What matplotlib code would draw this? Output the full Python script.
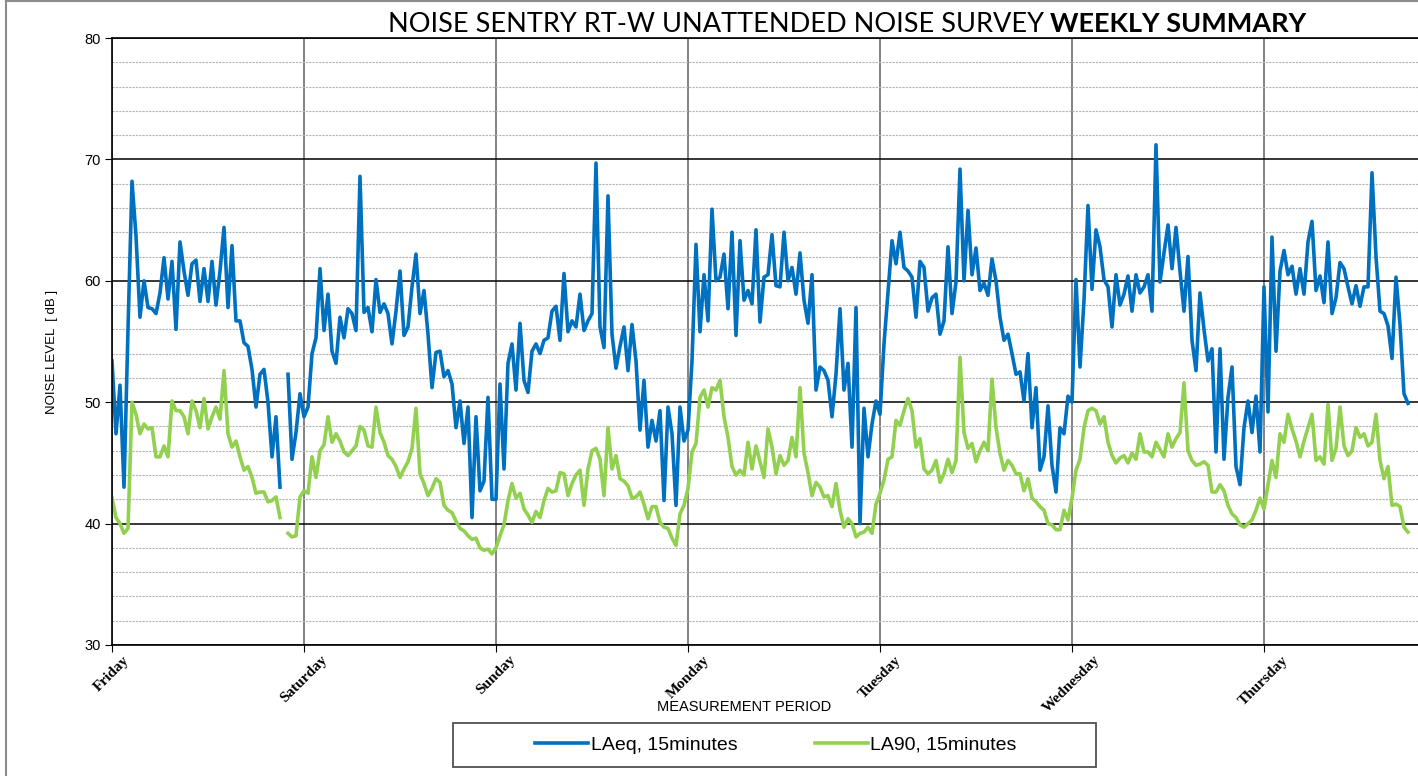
import numpy as np
import matplotlib.pyplot as plt
from matplotlib.ticker import MultipleLocator
from matplotlib.patches import Rectangle
from matplotlib.lines import Line2D

days = ["Friday", "Saturday", "Sunday", "Monday", "Tuesday", "Wednesday", "Thursday"]
nan = np.nan

# LAeq, half-hourly readings per day (dB)
laeq_fri = [53.4, 47.4, 51.4, 43.0, 56.0, 68.2, 63.7, 57.0, 60.0, 57.8, 57.7, 57.3, 59.0, 61.9, 58.5, 61.6,
            56.0, 63.2, 60.8, 58.8, 61.4, 61.7, 58.3, 61.0, 58.3, 61.6, 58.0, 60.8, 64.4, 57.8, 62.9, 56.7,
            56.7, 54.9, 54.6, 52.7, 49.6, 52.3, 52.7, 50.0, 45.5, 48.8, 43.0, nan, 52.3, 45.3, 47.5, 50.7]
laeq_sat = [48.8, 49.6, 54.0, 55.3, 61.0, 55.9, 58.9, 54.2, 53.2, 57.0, 55.3, 57.7, 57.3, 55.9, 68.6, 57.4,
            57.8, 55.8, 60.1, 57.4, 58.1, 57.3, 54.8, 57.5, 60.8, 55.5, 56.2, 59.5, 62.2, 57.3, 59.2, 55.6,
            51.2, 54.1, 54.2, 52.1, 52.6, 51.5, 47.9, 50.1, 46.6, 49.6, 40.5, 48.8, 42.7, 43.5, 50.4, 42.0]
laeq_sun = [42.0, 51.5, 44.5, 53.2, 54.8, 51.0, 56.5, 51.8, 50.8, 54.2, 54.8, 54.0, 55.1, 55.3, 57.5, 57.9,
            55.1, 60.6, 55.8, 56.7, 56.2, 58.9, 55.9, 56.7, 57.3, 69.7, 56.2, 54.5, 67.0, 55.6, 52.8, 54.6,
            56.2, 52.6, 56.4, 53.4, 47.7, 51.8, 46.3, 48.5, 46.8, 49.3, 41.9, 49.6, 47.4, 41.5, 49.6, 46.8]
laeq_mon = [47.7, 53.4, 63.0, 55.8, 60.5, 56.7, 65.9, 60.0, 60.3, 62.2, 57.7, 64.0, 55.5, 63.3, 58.4, 59.2,
            58.1, 64.2, 56.6, 60.3, 60.5, 63.8, 59.6, 59.5, 64.0, 60.0, 61.1, 58.9, 62.3, 58.4, 56.5, 60.5,
            51.0, 52.9, 52.6, 51.8, 48.8, 52.3, 57.7, 51.0, 53.2, 46.3, 57.8, 40.0, 49.5, 45.5, 48.2, 50.1]
laeq_tue = [49.0, 54.8, 59.0, 63.3, 61.4, 64.0, 61.1, 60.8, 60.3, 57.0, 61.6, 61.1, 57.5, 58.6, 58.9, 55.6,
            56.7, 62.8, 57.3, 59.9, 69.2, 60.0, 65.8, 60.5, 62.7, 59.2, 59.8, 58.8, 61.8, 60.0, 57.0, 55.1,
            55.6, 54.0, 52.3, 52.5, 50.1, 54.0, 47.9, 51.2, 44.4, 45.5, 49.7, 44.8, 42.6, 47.9, 47.4, 50.5]
laeq_wed = [50.0, 60.1, 52.9, 58.4, 66.2, 59.3, 64.2, 62.8, 60.1, 59.5, 56.2, 60.5, 58.0, 58.9, 60.4, 57.5,
            60.5, 59.0, 59.5, 60.5, 57.5, 71.2, 59.9, 62.3, 64.6, 61.0, 64.4, 60.8, 57.5, 62.0, 55.1, 52.6,
            59.0, 56.0, 53.4, 54.4, 45.9, 54.4, 45.3, 50.4, 52.9, 44.7, 43.2, 47.9, 50.1, 47.5, 50.5, 45.9]
laeq_thu = [59.5, 49.2, 63.6, 54.2, 60.8, 62.5, 60.5, 61.2, 58.9, 61.0, 58.9, 63.2, 64.9, 59.2, 60.4, 58.2,
            63.2, 57.3, 58.6, 61.5, 61.0, 59.5, 58.1, 59.6, 57.9, 59.5, 59.5, 68.9, 62.0, 57.5, 57.3, 56.3,
            53.6, 60.3, 56.4, 50.7, 49.9]

# LA90, half-hourly readings per day (dB)
la90_fri = [42.1, 40.5, 40.0, 39.2, 39.6, 50.0, 49.0, 47.4, 48.2, 47.8, 47.9, 45.5, 45.5, 46.4, 45.5, 50.1,
            49.3, 49.3, 48.8, 47.4, 50.1, 49.3, 47.9, 50.3, 47.8, 48.8, 49.6, 48.6, 52.6, 47.4, 46.3, 46.8,
            45.5, 44.4, 44.7, 43.8, 42.5, 42.6, 42.6, 41.8, 41.9, 42.2, 40.5, nan, 39.2, 38.9, 39.0, 42.2]
la90_sat = [42.7, 42.5, 45.5, 43.8, 46.0, 46.5, 48.8, 46.7, 47.4, 46.8, 45.9, 45.6, 46.0, 46.4, 48.0, 47.7,
            46.4, 46.3, 49.6, 47.5, 46.7, 45.6, 45.3, 44.7, 43.8, 44.5, 45.1, 46.2, 49.5, 44.1, 43.3, 42.3,
            42.9, 43.7, 43.4, 41.5, 41.1, 40.9, 40.2, 39.6, 39.4, 39.0, 38.7, 38.8, 38.0, 37.8, 37.9, 37.5]
la90_sun = [38.0, 39.0, 39.9, 41.9, 43.3, 42.1, 42.5, 41.2, 40.7, 40.1, 41.0, 40.5, 41.9, 42.9, 42.6, 42.7,
            44.2, 44.1, 42.3, 43.3, 44.0, 44.4, 41.5, 44.5, 46.0, 46.2, 45.3, 42.3, 47.9, 44.5, 45.6, 43.7,
            43.5, 43.1, 42.1, 42.2, 42.6, 41.6, 40.4, 41.4, 41.4, 40.1, 39.7, 39.6, 38.8, 38.2, 40.8, 41.5]
la90_mon = [42.9, 45.9, 46.6, 50.4, 51.0, 49.6, 51.2, 51.0, 51.8, 48.8, 47.1, 44.7, 44.0, 44.4, 44.0, 46.7,
            44.5, 46.4, 45.1, 43.8, 47.8, 46.3, 44.1, 45.6, 44.8, 45.2, 47.1, 45.5, 51.2, 45.8, 44.2, 42.3,
            43.4, 43.0, 42.2, 42.3, 41.4, 43.3, 41.1, 39.7, 40.4, 40.0, 38.9, 39.2, 39.3, 39.7, 39.2, 41.6]
la90_tue = [42.5, 43.6, 45.3, 45.5, 48.5, 48.1, 49.3, 50.3, 49.3, 46.3, 47.0, 44.5, 44.1, 44.4, 45.2, 43.4,
            44.1, 45.3, 44.2, 45.2, 53.7, 47.5, 46.2, 46.6, 45.1, 46.0, 46.7, 46.0, 51.9, 47.9, 45.8, 44.4,
            45.2, 44.8, 44.1, 44.1, 42.7, 43.7, 42.1, 41.8, 41.4, 41.1, 40.0, 39.9, 39.5, 39.5, 41.1, 40.3]
la90_wed = [42.1, 44.4, 45.3, 47.9, 49.3, 49.5, 49.3, 48.2, 48.8, 46.7, 45.6, 45.0, 45.4, 45.6, 45.0, 45.8,
            45.3, 47.4, 45.9, 45.9, 45.5, 46.7, 46.1, 45.5, 47.4, 46.3, 47.0, 47.5, 51.6, 46.0, 45.2, 44.8,
            44.9, 45.1, 44.8, 42.6, 42.6, 43.2, 42.7, 41.5, 40.8, 40.5, 39.9, 39.7, 40.0, 40.3, 41.1, 42.1]
la90_thu = [41.2, 43.2, 45.2, 43.8, 47.4, 46.7, 49.0, 47.8, 46.8, 45.5, 46.8, 47.9, 49.0, 45.2, 45.5, 44.9,
            49.8, 45.2, 46.2, 49.6, 46.4, 45.6, 46.0, 47.9, 47.1, 47.4, 46.4, 46.7, 49.0, 45.2, 43.7, 44.7,
            41.5, 41.6, 41.4, 39.7, 39.3]

laeq_days = [laeq_fri, laeq_sat, laeq_sun, laeq_mon, laeq_tue, laeq_wed, laeq_thu]
la90_days = [la90_fri, la90_sat, la90_sun, la90_mon, la90_tue, la90_wed, la90_thu]


def stitch(day_lists):
    # x in days since Friday 00:00, 48 readings a day
    xs, ys = [], []
    for d, vals in enumerate(day_lists):
        xs.append(d + np.arange(len(vals)) / 48.0)
        ys.append(np.array(vals, dtype=float))
    return np.concatenate(xs), np.concatenate(ys)


x_eq, y_eq = stitch(laeq_days)
x_90, y_90 = stitch(la90_days)

W, H = 1418, 776
fig = plt.figure(figsize=(W / 100, H / 100), dpi=100)
ax = fig.add_axes([112 / W, 1 - 645 / H, (W - 112) / W, (645 - 38) / H])

ax.plot(x_eq, y_eq, color="#0070C0", lw=2.6, label="LAeq, 15minutes", solid_joinstyle="round")
ax.plot(x_90, y_90, color="#92D050", lw=2.6, label="LA90, 15minutes", solid_joinstyle="round")

ax.set_xlim(0, (W - 112) / 192)
ax.set_ylim(30, 80)
ax.yaxis.set_major_locator(MultipleLocator(10))
ax.yaxis.set_minor_locator(MultipleLocator(2))
ax.set_xticks(range(7))
ax.set_xticklabels(days, rotation=45, ha="center", fontsize=11,
                   family="Liberation Serif", fontweight="bold")

ax.grid(which="major", axis="y", color="black", lw=1.1)
ax.grid(which="minor", axis="y", color="#b4b4b4", lw=0.8, ls=(0, (2, 1)))
ax.grid(which="major", axis="x", color="#6e6e6e", lw=1.2)
ax.set_axisbelow(True)

ax.tick_params(axis="y", which="major", direction="out", length=5, labelsize=10.5, pad=3)
ax.tick_params(axis="y", which="minor", length=0)
ax.tick_params(axis="x", which="major", direction="out", length=5, pad=1)
for lab in ax.get_yticklabels():
    lab.set_family("Liberation Sans")
for side in ["left", "bottom", "top"]:
    ax.spines[side].set_color("black")
    ax.spines[side].set_linewidth(1.2)
ax.spines["right"].set_visible(False)

# title: normal part + bold part
fig.text(1044 / W, 1 - 24 / H, "NOISE SENTRY RT-W UNATTENDED NOISE SURVEY", ha="right", va="center",
         fontsize=19.5, family="Lato")
fig.text(1050 / W, 1 - 24 / H, "WEEKLY SUMMARY", ha="left", va="center",
         fontsize=19.5, family="Lato", fontweight="bold")

fig.text(52 / W, 1 - 352 / H, "NOISE LEVEL  [ dB ]", rotation=90, ha="center", va="center",
         fontsize=9.5, family="Liberation Sans")
fig.text(744 / W, 1 - 707 / H, "MEASUREMENT PERIOD", ha="center", va="center",
         fontsize=10.5, family="Liberation Sans")

# legend box
fig.patches.append(Rectangle((453 / W, 1 - 767 / H), (1096 - 453) / W, 44 / H,
                             transform=fig.transFigure, fill=False, edgecolor="#505050", lw=1.3))
fig.legend(loc="center", bbox_to_anchor=(776 / W, 1 - 745 / H), ncol=2, frameon=False,
           prop={"family": ["Liberation Sans Narrow", "Liberation Sans"], "size": 14},
           handlelength=2.7, handletextpad=0.15, columnspacing=4.0)

# outer chart border
fig.lines.append(Line2D([5.5 / W, 5.5 / W], [0, 1 - 1 / H], transform=fig.transFigure, color="#8c8c8c", lw=1.5))
fig.lines.append(Line2D([5.5 / W, 1], [1 - 1 / H, 1 - 1 / H], transform=fig.transFigure, color="#8c8c8c", lw=1.5))

fig.savefig("out.png", dpi=100)
